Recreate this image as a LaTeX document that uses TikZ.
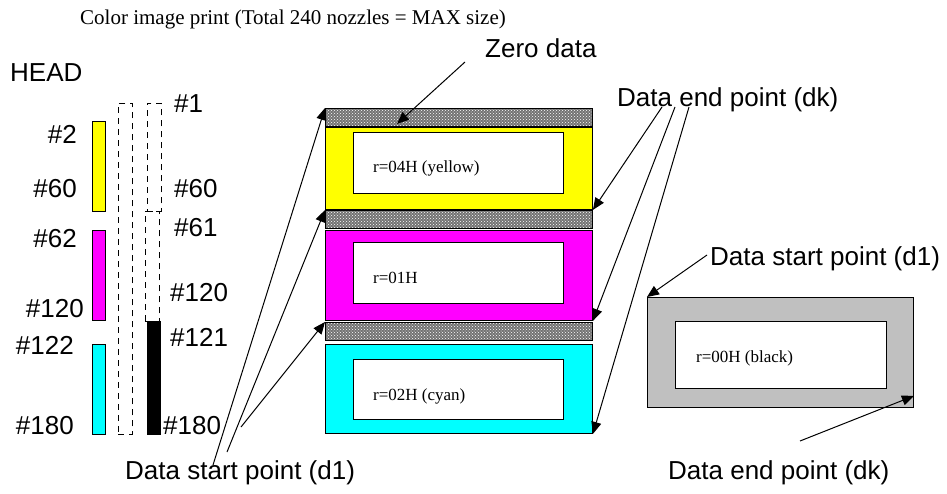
\documentclass[tikz,border=0pt]{standalone}
\usepackage{fontspec}
\setmainfont{Liberation Serif}
\newfontfamily\arialfont{Liberation Sans}
\usetikzlibrary{arrows.meta,patterns,calc}
\definecolor{inkY}{RGB}{255,255,0}
\definecolor{inkM}{RGB}{255,0,255}
\definecolor{inkC}{RGB}{0,255,255}
\definecolor{inkK}{RGB}{192,192,192}

\begin{document}
\begin{tikzpicture}[x=1pt, y=-1pt,
        lab/.style={font=\arialfont\fontsize{26}{28}\selectfont, inner sep=0},
        note/.style={font=\fontsize{17}{20}\selectfont, inner sep=0, anchor=west},
        box/.style={draw, line width=0.9pt, inner sep=0, anchor=north west},
        zeroband/.style={box, preaction={fill=black!55}, pattern=crosshatch dots, pattern color=white, minimum width=267pt, minimum height=18pt},
        colbox/.style={box, minimum width=267pt},
        inbox/.style={box, fill=white, minimum width=210pt, minimum height=61pt},
        nozbar/.style={box, minimum width=13pt},
        nozdash/.style={box, dash pattern=on 6pt off 5pt, minimum width=14pt},
        ptr/.style={-{Triangle[length=12pt,width=10pt]}, line width=1pt},
    ]
        \useasboundingbox (0,0) rectangle (947,493);

        % Title
        \node[font=\fontsize{21}{24}\selectfont, inner sep=0, anchor=base west] (title) at (80,24) {Color image print (Total 240 nozzles = MAX size)};

        % Head with nozzle rows
        \node[lab, anchor=base west] (head) at (10,81) {HEAD};
        \node[nozbar, fill=inkY, minimum height=90pt] (ynoz) at (92,121) {};
        \node[nozbar, fill=inkM, minimum height=90pt] (mnoz) at (92,230) {};
        \node[nozbar, fill=inkC, minimum height=90pt] (cnoz) at (92,344) {};
        \node[nozdash, minimum height=331pt] (allnoz) at (118,103) {};
        \node[nozdash, minimum height=108pt] (noza) at (147,103) {};
        \node[nozdash, minimum height=110pt] (nozb) at (145,211) {};
        \node[nozbar, fill=black, minimum height=113pt] (knoz) at (147,321) {};

        % Nozzle numbers, left side
        \node[lab, anchor=base east] (nl2) at (77,143) {\#2};
        \node[lab, anchor=base east] (nl60) at (77,197) {\#60};
        \node[lab, anchor=base east] (nl62) at (77,247) {\#62};
        \node[lab, anchor=base east] (nl120) at (84,317) {\#120};
        \node[lab, anchor=base east] (nl122) at (74,354) {\#122};
        \node[lab, anchor=base east] (nl180) at (74,434) {\#180};

        % Nozzle numbers, right side
        \node[lab, anchor=base west] (nr1) at (174,112) {\#1};
        \node[lab, anchor=base west] (nr60) at (174,197) {\#60};
        \node[lab, anchor=base west] (nr61) at (174,236) {\#61};
        \node[lab, anchor=base west] (nr120) at (170,301) {\#120};
        \node[lab, anchor=base west] (nr121) at (170,346) {\#121};
        \node[lab, anchor=base west] (nr180) at (163,434) {\#180};

        % Color image stack
        \node[zeroband] (zero1) at (325,108) {};
        \node[colbox, fill=inkY, minimum height=82pt] (ybox) at (325,127) {};
        \node[inbox] (yin) at (353,132) {};
        \node[note] (ytxt) at (373,168) {r=04H (yellow)};
        \node[zeroband] (zero2) at (325,210) {};
        \node[colbox, fill=inkM, minimum height=90pt] (mbox) at (325,230) {};
        \node[inbox] (min) at (353,242) {};
        \node[note] (mtxt) at (373,278) {r=01H};
        \node[zeroband] (zero3) at (325,322) {};
        \node[colbox, fill=inkC, minimum height=89pt] (cbox) at (325,344) {};
        \node[inbox, minimum height=60pt] (cin) at (353,359) {};
        \node[note] (ctxt) at (373,396) {r=02H (cyan)};

        % Black image
        \node[box, fill=inkK, minimum width=266pt, minimum height=110pt] (kbox) at (647,297) {};
        \node[box, fill=white, minimum width=211pt, minimum height=67pt] (kin) at (675,321) {};
        \node[note] (ktxt) at (696,358) {r=00H (black)};

        % Callouts
        \node[lab, anchor=base west] (zerolab) at (485,57) {Zero data};
        \node[lab, anchor=base west] (dktop) at (617,106) {Data end point (dk)};
        \node[lab, anchor=base west] (d1left) at (125,479) {Data start point (d1)};
        \node[lab, anchor=base west] (d1right) at (710,265) {Data start point (d1)};
        \node[lab, anchor=base west] (dkright) at (668,479) {Data end point (dk)};

        \coordinate (zerotail) at ($(zerolab.base west)+(-20,5)$);
        \coordinate (zerotip) at ($(zero1.south west)+(72,-3)$);
        \draw[ptr] (zerotail) -- (zerotip);

        \draw[ptr] ($(dktop.base west)+(45,1)$) coordinate (dka) -- (ybox.south east);
        \draw[ptr] ($(dktop.base west)+(58,1)$) coordinate (dkb) -- (mbox.south east);
        \draw[ptr] ($(dktop.base west)+(72,1)$) coordinate (dkc) -- (cbox.south east);

        \draw[ptr] ($(d1left.base west)+(88,-14)$) coordinate (d1a) -- (zero1.north west);
        \draw[ptr] ($(d1left.base west)+(102,-27)$) coordinate (d1b) -- (zero2.north west);
        \draw[ptr] ($(d1left.base west)+(116,-52)$) coordinate (d1c) -- (zero3.north west);

        \draw[ptr] ($(d1right.base west)+(-3,-10)$) coordinate (d1r) -- (kbox.north west);
        \coordinate (dkrtip) at ($(kbox.south east)+(0,-12)$);
        \draw[ptr] ($(dkright.base west)+(132,-38)$) coordinate (dkr) -- (dkrtip);

    \end{tikzpicture}
\end{document}
